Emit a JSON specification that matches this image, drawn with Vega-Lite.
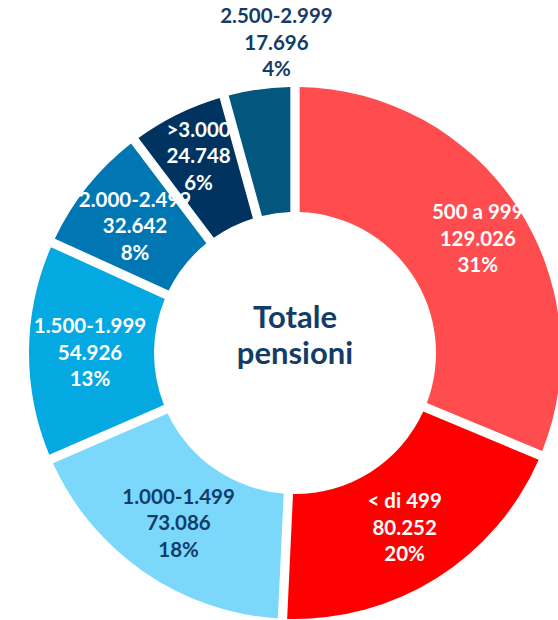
{
  "$schema": "https://vega.github.io/schema/vega-lite/v6.json",
  "width": 527,
  "height": 534,
  "autosize": "none",
  "padding": {"left": 31.5, "top": 86, "right": 0, "bottom": 0},
  "background": "white",
  "config": {
    "view": {"stroke": null},
    "locale": {"number": {"decimal": ",", "thousands": ".", "grouping": [3], "currency": ["", " €"]}},
    "text": {"font": "Lato", "fontWeight": "bold"}
  },
  "data": {
    "values": [
      {"ordine": 1, "fascia": "500 a 999", "pensioni": 129026, "perc": "31%"},
      {"ordine": 2, "fascia": "< di 499", "pensioni": 80252, "perc": "20%"},
      {"ordine": 3, "fascia": "1.000-1.499", "pensioni": 73086, "perc": "18%"},
      {"ordine": 4, "fascia": "1.500-1.999", "pensioni": 54926, "perc": "13%"},
      {"ordine": 5, "fascia": "2.000-2.499", "pensioni": 32642, "perc": "8%"},
      {"ordine": 6, "fascia": ">3.000", "pensioni": 24748, "perc": "6%"},
      {"ordine": 7, "fascia": "2.500-2.999", "pensioni": 17696, "perc": "4%"}
    ]
  },
  "transform": [
    {"calculate": "[datum.fascia, format(datum.pensioni, ',d'), datum.perc]", "as": "etichetta"}
  ],
  "encoding": {
    "theta": {"field": "pensioni", "type": "quantitative", "stack": true},
    "order": {"field": "ordine", "type": "quantitative"}
  },
  "layer": [
    {
      "mark": {"type": "arc", "outerRadius": 266, "innerRadius": 141, "padAngle": 0.031},
      "encoding": {
        "color": {
          "field": "fascia",
          "type": "nominal",
          "legend": null,
          "scale": {
            "domain": ["500 a 999", "< di 499", "1.000-1.499", "1.500-1.999", "2.000-2.499", ">3.000", "2.500-2.999"],
            "range": ["#FF4C4F", "#FF0000", "#7BD8FB", "#04A9E1", "#0077B3", "#00335F", "#03567E"]
          }
        }
      }
    },
    {
      "mark": {"type": "text", "radius": 205, "fontSize": 20.5, "lineHeight": 26.5, "align": "center", "baseline": "middle", "dy": -24},
      "encoding": {
        "text": {"field": "etichetta", "type": "nominal"},
        "color": {"condition": {"test": "datum.fascia === '1.000-1.499'", "value": "#133C67"}, "value": "#FFFFFF"},
        "opacity": {"condition": {"test": "indexof(['< di 499','1.000-1.499','1.500-1.999','2.000-2.499'], datum.fascia) >= 0", "value": 1}, "value": 0}
      }
    },
    {
      "mark": {"type": "text", "radius": 218, "fontSize": 20.5, "lineHeight": 26.5, "align": "center", "baseline": "middle", "dy": -26.5},
      "encoding": {
        "text": {"field": "etichetta", "type": "nominal"},
        "color": {"value": "#FFFFFF"},
        "opacity": {"condition": {"test": "datum.fascia === '>3.000'", "value": 1}, "value": 0}
      }
    },
    {
      "mark": {"type": "text", "radius": 215, "thetaOffset": 0.033, "fontSize": 20.5, "lineHeight": 26.5, "align": "center", "baseline": "middle", "dy": -26.5},
      "encoding": {
        "text": {"field": "etichetta", "type": "nominal"},
        "color": {"value": "#FFFFFF"},
        "opacity": {"condition": {"test": "datum.fascia === '500 a 999'", "value": 1}, "value": 0}
      }
    },
    {
      "mark": {"type": "text", "radius": 310, "thetaOffset": 0.075, "fontSize": 20.5, "lineHeight": 26.5, "align": "center", "baseline": "middle", "dy": -26.5},
      "encoding": {
        "text": {"field": "etichetta", "type": "nominal"},
        "color": {"value": "#133C67"},
        "opacity": {"condition": {"test": "datum.fascia === '2.500-2.999'", "value": 1}, "value": 0}
      }
    },
    {
      "data": {"values": [{"titolo": ["Totale", "pensioni"]}]},
      "transform": [],
      "mark": {"type": "text", "fontSize": 31, "lineHeight": 36, "align": "center", "baseline": "middle", "dy": -34, "color": "#133C67"},
      "encoding": {
        "theta": null,
        "order": null,
        "text": {"field": "titolo", "type": "nominal"}
      }
    }
  ]
}
